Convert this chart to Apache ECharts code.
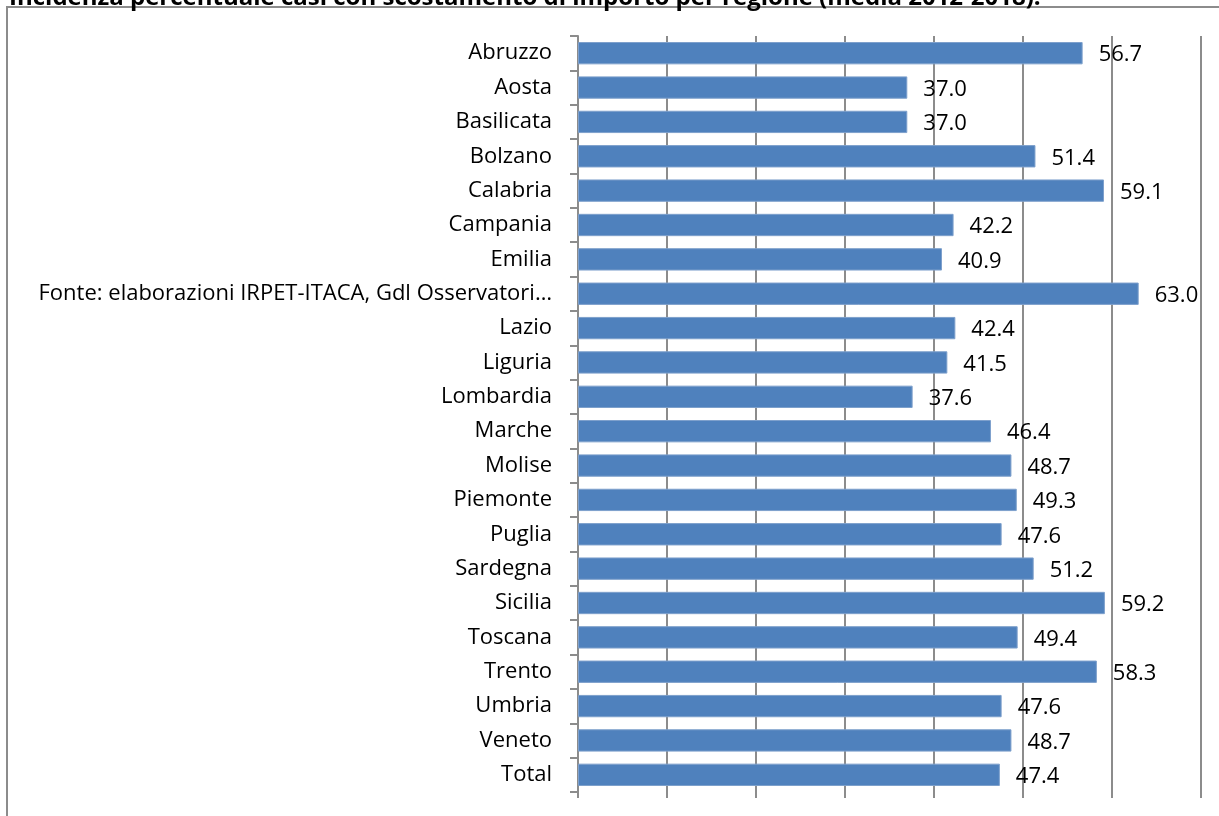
<!DOCTYPE html>
<html>
<head>
<meta charset="utf-8">
<script src="https://cdn.jsdelivr.net/npm/echarts@6/dist/echarts.min.js"></script>
<style>
  html, body { margin: 0; padding: 0; background: #fff; }
  #main { width: 1219px; height: 816px; }
</style>
</head>
<body>
<div id="main"></div>
<script>
// regioni e valori (%)
const regioni = ['Abruzzo', 'Aosta', 'Basilicata', 'Bolzano', 'Calabria', 'Campania', 'Emilia',
  'Fonte: elaborazioni IRPET-ITACA, Gdl Osservatori…', 'Lazio', 'Liguria', 'Lombardia', 'Marche',
  'Molise', 'Piemonte', 'Puglia', 'Sardegna', 'Sicilia', 'Toscana', 'Trento', 'Umbria', 'Veneto', 'Total']
const valori = [56.7, 37.0, 37.0, 51.4, 59.1, 42.2, 40.9, 63.0, 42.4, 41.5, 37.6, 46.4,
  48.7, 49.3, 47.6, 51.2, 59.2, 49.4, 58.3, 47.6, 48.7, 47.4]
const titolo = 'Incidenza percentuale casi con scostamento di importo per regione (media 2012-2018).'

const font = '"Open Sans", Lato, sans-serif'
let myChart = echarts.init(document.getElementById('main'))

let option = {
  animation: false,
  title: {
    text: titolo,
    left: 4,
    top: -19,
    textStyle: { fontFamily: font, fontSize: 24, fontWeight: 'bold', color: '#000' }
  },
  graphic: [
    {
      type: 'polyline',
      shape: { points: [[7, 830], [7, 7], [1230, 7]] },
      style: { stroke: '#8c8c8c', lineWidth: 2, fill: null }
    }
  ],
  grid: { left: 578, right: 18, top: 36, bottom: 24, containLabel: false },
  xAxis: {
    type: 'value',
    min: 0,
    max: 70,
    interval: 10,
    axisLine: { show: false },
    axisTick: { show: true, length: 6, lineStyle: { color: '#8c8c8c', width: 2 } },
    axisLabel: { show: false },
    splitLine: { show: true, lineStyle: { color: '#8c8c8c', width: 2 } }
  },
  yAxis: {
    type: 'category',
    data: regioni,
    inverse: true,
    axisLine: { show: true, lineStyle: { color: '#8c8c8c', width: 2 } },
    axisTick: { show: true, length: 8, lineStyle: { color: '#8c8c8c', width: 2 } },
    axisLabel: { color: '#000', fontSize: 22, fontFamily: font, margin: 26 }
  },
  series: [
    {
      type: 'bar',
      data: valori,
      barWidth: '65%',
      itemStyle: { color: '#4F81BD', borderColor: '#7ea0cc', borderWidth: 1 },
      label: {
        show: true,
        position: 'right',
        distance: 16,
        color: '#000',
        fontSize: 22,
        fontFamily: font,
        formatter: p => p.value.toFixed(1),
        offset: [0, 2]
      }
    }
  ]
}

myChart.setOption(option)
</script>
</body>
</html>
